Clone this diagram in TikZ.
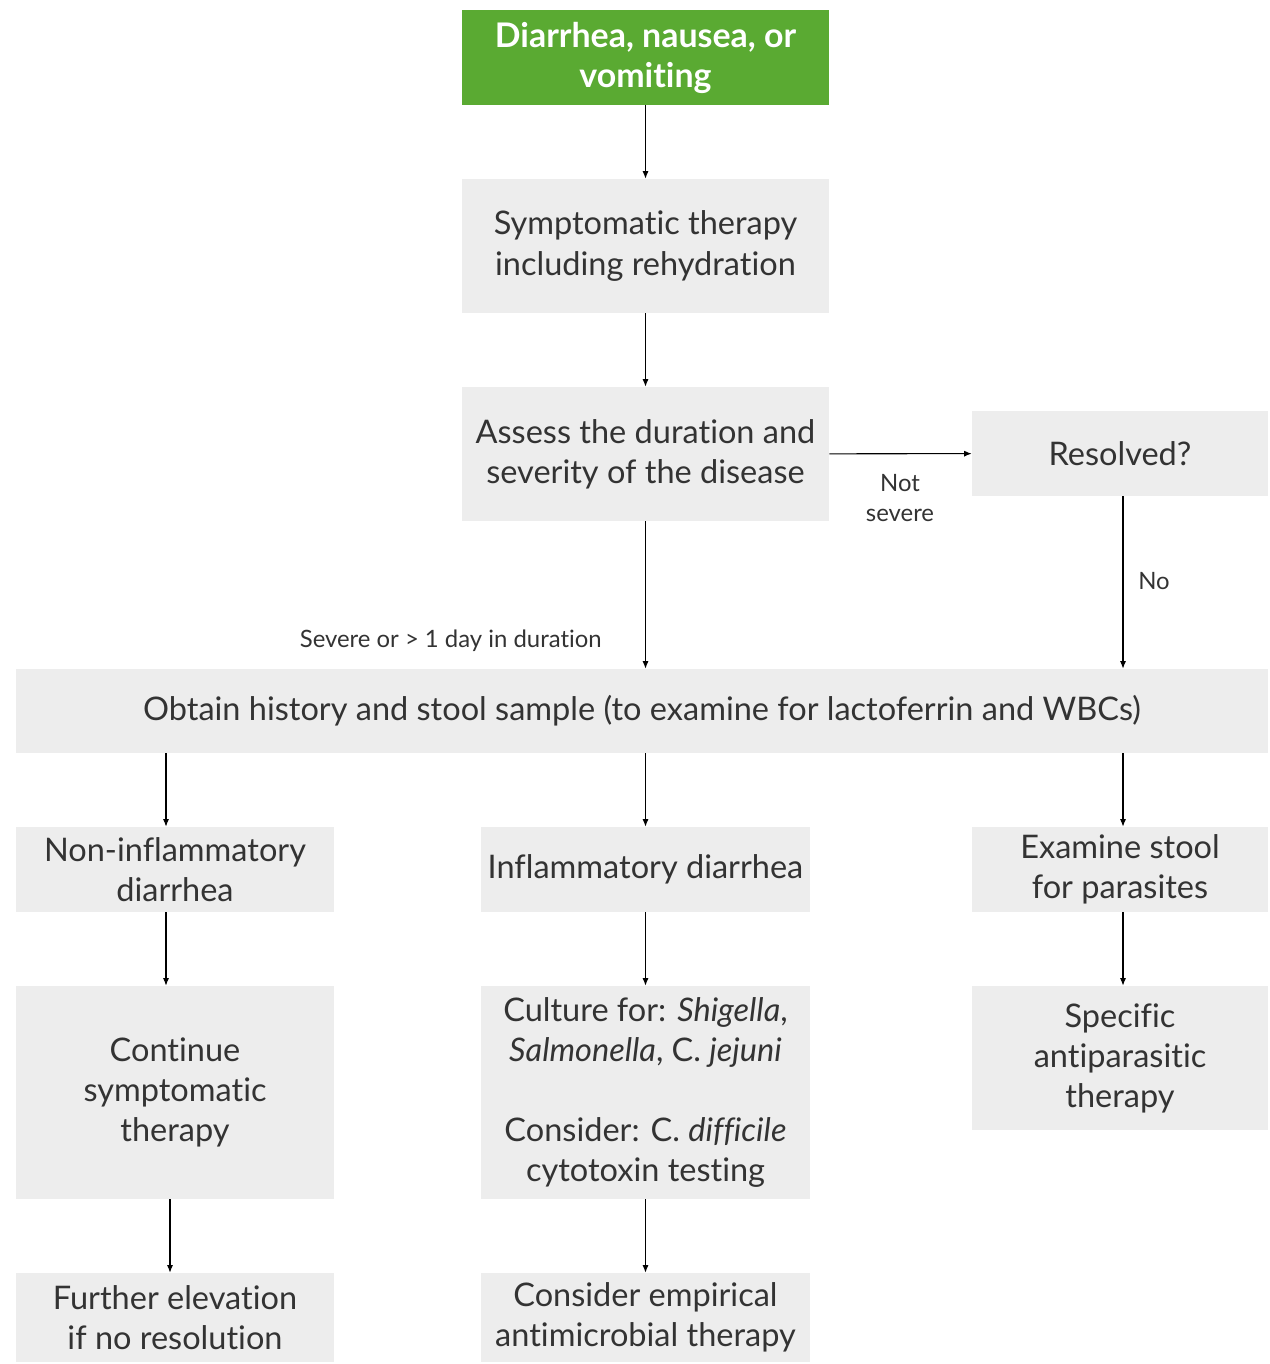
\documentclass[tikz,border=0pt]{standalone}
\usepackage{fontspec}
\setmainfont{Lato}[Ligatures=NoCommon]
\usepackage{xcolor}
\usetikzlibrary{arrows.meta,positioning}
\definecolor{StartGreen}{HTML}{5AAA32}
\definecolor{BoxGray}{HTML}{EDEDED}
\definecolor{TextGray}{HTML}{333333}
\tikzset{
  startbox/.style={fill=StartGreen, text=white, font=\fontsize{19.3}{22.8}\selectfont\bfseries, align=center, inner sep=0pt, minimum width=7.34cm, minimum height=1.9cm},
  graybox/.style={fill=BoxGray, text=TextGray, font=\fontsize{18.5}{22.8}\selectfont, align=center, inner sep=0pt},
  edgelabel/.style={text=TextGray, font=\fontsize{13.6}{17}\selectfont, align=center, inner sep=0pt},
  arrow/.style={-{Latex[length=1.5mm,width=1.2mm]}, line width=0.6pt, draw=black}
}
\begin{document}
\begin{tikzpicture}[x=0.02cm, y=-0.02cm]
    \useasboundingbox (0,0) rectangle (1269,1364);
    % main column
    \node[startbox] (start) at (645.5,57.5) {Diarrhea, nausea, or\\vomiting};
    \node[graybox, minimum width=7.34cm, minimum height=2.68cm] (symp) at (645.5,246) {Symptomatic therapy\\including rehydration};
    \node[graybox, minimum width=7.34cm, minimum height=2.68cm] (assess) at (645.5,454) {Assess the duration and\\severity of the disease};
    \node[graybox, minimum width=5.92cm, minimum height=1.7cm] (resolved) at (1120,453.5) {Resolved?};
    \node[graybox, minimum width=25.04cm, minimum height=1.68cm] (obtain) at (642,711) {Obtain history and stool sample (to examine for lactoferrin and WBCs)};
    % three branches
    \node[graybox, minimum width=6.36cm, minimum height=1.7cm] (noninf) at (175,869.5) {Non-inflammatory\\diarrhea};
    \node[graybox, minimum width=6.58cm, minimum height=1.7cm] (inflam) at (645.5,869.5) {Inflammatory diarrhea};
    \node[graybox, minimum width=5.92cm, minimum height=1.7cm] (examine) at (1120,869.5) {Examine stool\\for parasites};
    \node[graybox, minimum width=6.36cm, minimum height=4.26cm] (cont) at (175,1092.5) {Continue\\symptomatic\\therapy};
    \node[graybox, minimum width=6.58cm, minimum height=4.26cm] (culture) at (645.5,1092.5) {Culture for: \textit{Shigella},\\\textit{Salmonella}, C. \textit{jejuni}\\[0.8cm]Consider: C. \textit{difficile}\\cytotoxin testing};
    \node[graybox, minimum width=5.92cm, minimum height=2.88cm] (specific) at (1120,1058) {Specific\\antiparasitic\\therapy};
    \node[graybox, minimum width=6.36cm, minimum height=1.78cm] (further) at (175,1317.5) {Further elevation\\if no resolution};
    \node[graybox, minimum width=6.58cm, minimum height=1.78cm] (empir) at (645.5,1317.5) {Consider empirical\\antimicrobial therapy};
    % labels
    \node[edgelabel, anchor=east] (severe) at (602,641) {Severe or > 1 day in duration};
    \node[edgelabel] (notsevere) at (900,498) {Not\\severe};
    \node[edgelabel] (no) at (1154,581) {No};

    \draw[arrow] (start) -- (symp);
    \draw[arrow] (symp) -- (assess);
    \draw[arrow] (assess) -- (resolved);
    \draw[arrow] (assess) -- (assess |- obtain.north);
    \draw[arrow] ([xshift=0.06cm]resolved.south) -- ([xshift=0.06cm]resolved.south |- obtain.north);
    \draw[arrow] ([xshift=-0.18cm]noninf.north |- obtain.south) -- ([xshift=-0.18cm]noninf.north);
    \draw[arrow] (inflam.north |- obtain.south) -- (inflam);
    \draw[arrow] ([xshift=0.06cm]examine.north |- obtain.south) -- ([xshift=0.06cm]examine.north);
    \draw[arrow] ([xshift=-0.18cm]noninf.south) -- ([xshift=-0.18cm]cont.north);
    \draw[arrow] (inflam) -- (culture);
    \draw[arrow] ([xshift=0.06cm]examine.south) -- ([xshift=0.06cm]specific.north);
    \draw[arrow] ([xshift=-0.1cm]cont.south) -- ([xshift=-0.1cm]further.north);
    \draw[arrow] (culture) -- (empir);
\end{tikzpicture}
\end{document}
